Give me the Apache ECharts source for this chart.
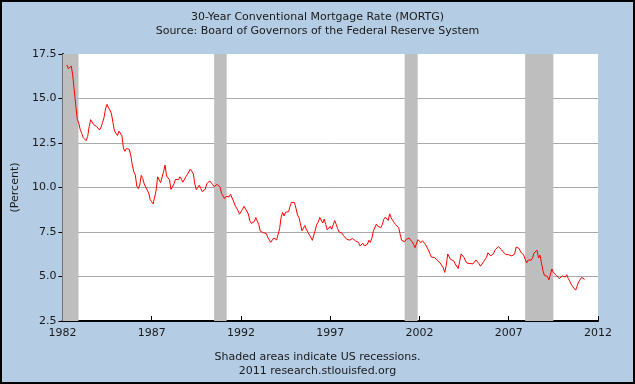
<!DOCTYPE html>
<html>
<head>
<meta charset="utf-8">
<script src="https://cdn.jsdelivr.net/npm/echarts@6/dist/echarts.min.js"></script>
<style>
html,body{margin:0;padding:0;background:#000;}
#c{position:absolute;left:2px;top:2px;width:631px;height:380px;background:#b4cce4;}
</style>
</head>
<body>
<div id="c"></div>
<script>
// Series begins April 1982, monthly
var startYear = 1982;
var startMonthIndex = 3; // April (0-based)
var rates = [
  16.89, 16.68, 16.70, 16.82, 16.27, 15.43, 14.61, 13.83, 13.62,
  13.25, 13.04, 12.80, 12.78, 12.63, 12.87, 13.42, 13.81, 13.73, 13.54, 13.44, 13.42,
  13.37, 13.23, 13.39, 13.65, 13.94, 14.42, 14.67, 14.47, 14.35, 14.13, 13.64, 13.18,
  13.08, 12.92, 13.17, 13.20, 12.91, 12.22, 12.03, 12.19, 12.19, 12.14, 11.78, 11.26,
  10.88, 10.71, 10.08, 9.94, 10.14, 10.68, 10.51, 10.20, 10.01, 9.98, 9.70, 9.32,
  9.20, 9.08, 9.04, 9.83, 10.60, 10.54, 10.28, 10.33, 10.89, 11.26, 10.65, 10.65,
  10.43, 9.89, 9.93, 10.20, 10.46, 10.46, 10.43, 10.60, 10.48, 10.30, 10.27, 10.61,
  10.73, 10.65, 11.03, 11.05, 10.77, 10.20, 9.88, 9.99, 10.13, 9.95, 9.77, 9.74,
  9.90, 10.20, 10.27, 10.37, 10.48, 10.16, 10.04, 10.10, 10.18, 10.18, 10.01, 9.67,
  9.64, 9.37, 9.50, 9.49, 9.47, 9.62, 9.58, 9.24, 9.01, 8.86, 8.71, 8.50,
  8.43, 8.76, 8.94, 8.85, 8.67, 8.51, 8.13, 7.98, 7.92, 8.09, 8.31, 8.22,
  7.92, 7.55, 7.46, 7.46, 7.47, 7.42, 7.21, 7.11, 6.92, 6.83, 7.16, 7.17,
  7.06, 7.15, 7.68, 8.32, 8.60, 8.40, 8.61, 8.51, 8.64, 8.93, 9.17, 9.20,
  9.15, 8.83, 8.46, 8.32, 7.96, 7.57, 7.61, 7.86, 7.64, 7.48, 7.38, 7.20,
  7.03, 7.08, 7.62, 7.93, 8.07, 8.32, 8.25, 8.00, 8.23, 7.92, 7.62, 7.60,
  7.82, 7.65, 7.90, 8.14, 7.94, 7.69, 7.50, 7.48, 7.43, 7.29, 7.21, 7.10,
  6.99, 7.04, 7.13, 7.14, 7.14, 7.00, 6.95, 6.92, 6.72, 6.71, 6.87, 6.72,
  6.79, 6.81, 7.04, 6.92, 7.15, 7.55, 7.63, 7.94, 7.82, 7.85, 7.74, 7.91,
  8.21, 8.33, 8.24, 8.15, 8.52, 8.29, 8.15, 8.03, 7.91, 7.80, 7.75, 7.38,
  7.03, 7.05, 6.95, 7.08, 7.15, 7.16, 7.13, 6.95, 6.82, 6.62, 6.66, 7.07,
  7.00, 6.89, 7.01, 6.99, 6.81, 6.65, 6.49, 6.29, 6.09, 6.11, 6.07, 6.05,
  5.92, 5.84, 5.75, 5.81, 5.48, 5.23, 5.63, 6.26, 6.15, 5.95, 5.93, 5.88,
  5.71, 5.64, 5.45, 5.83, 6.27, 6.29, 6.06, 5.87, 5.75, 5.72, 5.73, 5.75,
  5.71, 5.63, 5.93, 5.86, 5.72, 5.58, 5.70, 5.82, 5.77, 6.07, 6.33, 6.27,
  6.15, 6.25, 6.32, 6.51, 6.60, 6.68, 6.76, 6.52, 6.40, 6.36, 6.24, 6.14,
  6.22, 6.29, 6.16, 6.18, 6.26, 6.66, 6.70, 6.57, 6.38, 6.38, 6.21, 6.10,
  5.76, 5.92, 5.97, 5.92, 6.04, 6.32, 6.43, 6.48, 6.04, 6.20, 6.09, 5.33,
  5.06, 5.13, 5.00, 4.81, 4.86, 5.42, 5.22, 5.19, 5.06, 4.95, 4.88, 4.93,
  5.03, 4.99, 4.97, 5.10, 4.89, 4.74, 4.56, 4.43, 4.35, 4.23, 4.30, 4.71,
  4.76, 4.95, 4.84, 4.84
];
var recessionStart = [1982.0, 1990.5, 2001.17, 2007.92];
var recessionEnd   = [1982.9, 1991.2, 2001.9, 2009.5];
var yTicks = [2.5, 5.0, 7.5, 10.0, 12.5, 15.0, 17.5];
var xTicks = [1982, 1987, 1992, 1997, 2002, 2007, 2012];
var titleLines = ['30-Year Conventional Mortgage Rate (MORTG)', 'Source: Board of Governors of the Federal Reserve System'];
var footerLines = ['Shaded areas indicate US recessions.', '2011 research.stlouisfed.org'];
var yAxisName = '(Percent)';

var seriesData = rates.map(function (v, i) {
  return [startYear + (startMonthIndex + i) / 12, v];
});
var bands = recessionStart.map(function (s, i) {
  return [{ xAxis: s }, { xAxis: recessionEnd[i] }];
});

var font = 'DejaVu Sans, Verdana, sans-serif';
var txt = '#1a1a1a';
var chart = echarts.init(document.getElementById('c'), null, { renderer: 'canvas' });
chart.setOption({
  animation: false,
  backgroundColor: '#b4cce4',
  title: [
    { text: titleLines.join('\n'), left: 'center', top: 3,
      textStyle: { fontFamily: font, fontSize: 11, fontWeight: 'normal', color: txt, lineHeight: 14 } },
    { text: footerLines.join('\n'), left: 'center', bottom: -1,
      textStyle: { fontFamily: font, fontSize: 11, fontWeight: 'normal', color: txt, lineHeight: 14 } }
  ],
  grid: { left: 59, top: 52, width: 537, height: 267, containLabel: false, show: true, backgroundColor: '#ffffff', borderWidth: 0 },
  xAxis: {
    type: 'value', min: xTicks[0], max: xTicks[xTicks.length - 1], interval: 5,
    axisLine: { show: true, onZero: false, lineStyle: { color: '#000', width: 2 } },
    axisTick: { show: true, inside: true, length: 5, lineStyle: { color: '#000' } },
    axisLabel: { fontFamily: font, fontSize: 11, color: txt, margin: 7, formatter: function (v) { return String(Math.round(v)); } },
    splitLine: { show: false }
  },
  yAxis: {
    type: 'value', min: yTicks[0], max: yTicks[yTicks.length - 1], interval: 2.5,
    name: yAxisName, nameLocation: 'middle', nameRotate: 90, nameGap: 40,
    nameTextStyle: { fontFamily: font, fontSize: 11, color: txt },
    axisLine: { show: true, lineStyle: { color: '#000', width: 2 } },
    axisTick: { show: true, inside: false, length: 4, lineStyle: { color: '#000' } },
    axisLabel: { fontFamily: font, fontSize: 11, color: txt, margin: 6, formatter: function (v) { return v.toFixed(1); } },
    splitLine: { show: true, lineStyle: { color: ['rgba(0,0,0,0)', '#aaaaaa', '#aaaaaa', '#aaaaaa', '#aaaaaa', '#aaaaaa', 'rgba(0,0,0,0)'], width: 1 } }
  },
  series: [
    { type: 'line', data: [], z: 1, silent: true,
      markArea: { silent: true, itemStyle: { color: '#bebebe' }, data: bands } },
    { type: 'line', data: seriesData, z: 3, showSymbol: false, symbol: 'none',
      lineStyle: { color: '#ff0000', width: 1 }, silent: true }
  ]
});
</script>
</body>
</html>
